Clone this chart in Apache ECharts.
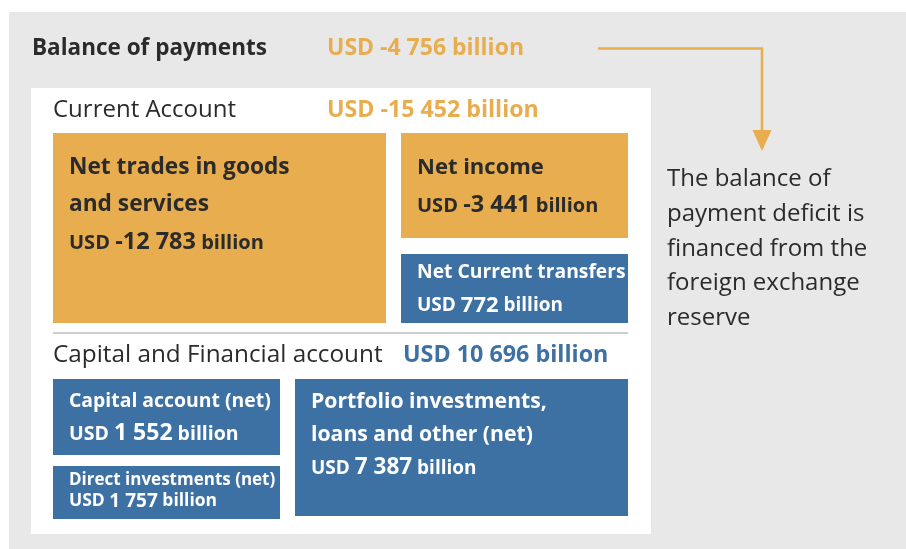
<!DOCTYPE html>
<html>
<head>
<meta charset="utf-8">
<title>Balance of payments</title>
<script src="https://cdn.jsdelivr.net/npm/echarts@6/dist/echarts.min.js"></script>
<style>
  html, body { margin: 0; padding: 0; background: #fff; }
  #main { width: 906px; height: 549px; }
</style>
</head>
<body>
<div id="main"></div>
<script>
// ---- 数据 ----
const totalName = 'Balance of payments'
const totalValue = -4756
const groupNames = ['Current Account', 'Capital and Financial account']
const groupValues = [-15452, 10696]
const itemNames = [
  'Net trades in goods\nand services',
  'Net income',
  'Net Current transfers',
  'Capital account (net)',
  'Direct investments (net)',
  'Portfolio investments,\nloans and other (net)'
]
const itemValues = [-12783, -3441, 772, 1552, 1757, 7387]
const noteLines = ['The balance of', 'payment deficit is', 'financed from the', 'foreign exchange', 'reserve']

// ---- 版面 (单位: 像素, 坐标轴 0..906 / 0..549) ----
const itemBoxes = [
  [53, 133, 386, 323],
  [401, 133, 628, 238],
  [401, 254, 628, 323],
  [53, 379, 280, 455],
  [53, 466, 280, 519],
  [295, 379, 628, 516]
]
const itemFonts = [
  { title: 22.7, usd: 20, num: 23.5, top: 35, gap: 37 },
  { title: 22, usd: 20, num: 23.5, top: 35, gap: 37 },
  { title: 19.3, usd: 19, num: 22, top: 18.5, gap: 33 },
  { title: 19.4, usd: 19.5, num: 23, top: 22.5, gap: 32 },
  { title: 17, usd: 17.5, num: 19, top: 14, gap: 22, spacing: -1.1 },
  { title: 21.2, usd: 19, num: 22.5, top: 22.5, gap: 33 }
]
// 标题位置: [名称x, 数值x, 中心y]
const headerPos = [[32, 327, 48.5], [53, 327, 110.5], [53, 403, 355.5]]
const headerFonts = [
  { name: 'bold 22.5px ', value: 23 },
  { name: '24px ', value: 23.2 },
  { name: '24.3px ', value: 23.3 }
]

const FONT = '"Open Sans", "Noto Sans", sans-serif'
const ORANGE = '#E8AD4E'
const BLUE = '#3D71A4'
const TEXT = '#2B2B2B'

function fmt (v) {
  return (v < 0 ? '-' : '') + String(Math.abs(v)).replace(/\B(?=(\d{3})+(?!\d))/g, ' ')
}
function signColor (v) {
  return v < 0 ? ORANGE : BLUE
}

const itemData = itemValues.map((v, i) => itemBoxes[i].concat([v]))
const headerValues = [totalValue].concat(groupValues)
const headerNames = [totalName].concat(groupNames)
const headerData = headerValues.map((v, i) => headerPos[i].concat([v]))

let myChart = echarts.init(document.getElementById('main'))

let option = {
  animation: false,
  grid: { left: 0, right: 0, top: 0, bottom: 0 },
  xAxis: { type: 'value', min: 0, max: 906, show: false },
  yAxis: { type: 'value', min: 0, max: 549, inverse: true, show: false },
  graphic: [
    { type: 'rect', z: -10, shape: { x: 9, y: 12, width: 897, height: 537 }, style: { fill: '#E8E8E8' } },
    { type: 'rect', z: -9, shape: { x: 31, y: 88, width: 620, height: 446 }, style: { fill: '#FFFFFF' } },
    { type: 'line', shape: { x1: 53, y1: 333, x2: 628, y2: 333 }, style: { stroke: '#BDBDBD', lineWidth: 1.5 } },
    // 箭头
    { type: 'polyline', shape: { points: [[598, 48.5], [762, 48.5], [762, 132]] }, style: { stroke: ORANGE, lineWidth: 2.5, fill: null } },
    { type: 'polygon', shape: { points: [[752.5, 130], [771.5, 130], [762, 151]] }, style: { fill: ORANGE } },
    {
      type: 'group',
      children: noteLines.map((t, i) => ({
        type: 'text',
        x: 667,
        y: 179.5 + i * 34.7,
        style: { text: t, fill: TEXT, font: '24px ' + FONT, verticalAlign: 'middle' }
      }))
    }
  ],
  series: [
    {
      type: 'custom',
      name: 'items',
      coordinateSystem: 'cartesian2d',
      encode: { x: [0, 2], y: [1, 3] },
      renderItem: function (params, api) {
        const i = params.dataIndex
        const p0 = api.coord([api.value(0), api.value(1)])
        const p1 = api.coord([api.value(2), api.value(3)])
        const v = api.value(4)
        const f = itemFonts[i]
        const fg = v < 0 ? TEXT : '#FFFFFF'
        const lines = itemNames[i].split('\n')
        const children = [{
          type: 'rect',
          shape: { x: p0[0], y: p0[1], width: p1[0] - p0[0], height: p1[1] - p0[1] },
          style: { fill: signColor(v) }
        }]
        lines.forEach((t, k) => {
          children.push({
            type: 'text',
            x: p0[0] + 16,
            y: p0[1] + f.top + k * f.gap,
            style: {
              text: t,
              fill: fg,
              font: 'bold ' + f.title + 'px ' + FONT,
              verticalAlign: 'middle',
              letterSpacing: f.spacing || 0
            }
          })
        })
        // 数值行: USD 与 billion 字号较小
        const sub = { fill: fg, fontFamily: FONT, fontWeight: 'bold', fontSize: f.usd, verticalAlign: 'bottom' }
        children.push({
          type: 'text',
          x: p0[0] + 16,
          y: p0[1] + f.top + lines.length * f.gap,
          style: {
            text: '{u|USD }{n|' + fmt(v) + '}{u| billion}',
            verticalAlign: 'middle',
            rich: {
              u: Object.assign({}, sub, { padding: [0, 0, 1, 0] }),
              n: Object.assign({}, sub, { fontSize: f.num })
            }
          }
        })
        return { type: 'group', children: children }
      },
      data: itemData
    },
    {
      type: 'custom',
      name: 'headers',
      coordinateSystem: 'cartesian2d',
      encode: { x: [0, 1], y: 2 },
      renderItem: function (params, api) {
        const i = params.dataIndex
        const pn = api.coord([api.value(0), api.value(2)])
        const pv = api.coord([api.value(1), api.value(2)])
        const v = api.value(3)
        const hf = headerFonts[i]
        return {
          type: 'group',
          children: [
            {
              type: 'text',
              x: pn[0],
              y: pn[1],
              style: { text: headerNames[i], fill: TEXT, font: hf.name + FONT, verticalAlign: 'middle' }
            },
            {
              type: 'text',
              x: pv[0],
              y: pv[1],
              style: { text: 'USD ' + fmt(v) + ' billion', fill: signColor(v), font: 'bold ' + hf.value + 'px ' + FONT, verticalAlign: 'middle' }
            }
          ]
        }
      },
      data: headerData
    }
  ]
}

myChart.setOption(option)
</script>
</body>
</html>
